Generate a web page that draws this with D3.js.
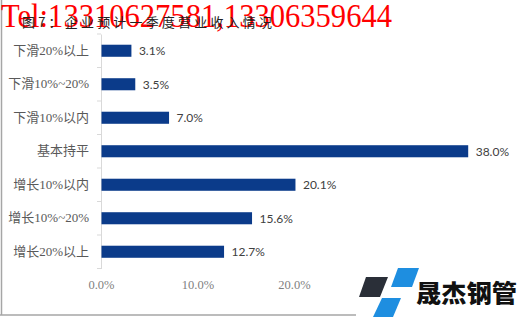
<!DOCTYPE html>
<html>
<head>
<meta charset="utf-8">
<script src="https://cdn.jsdelivr.net/npm/d3@7/dist/d3.min.js"></script>
<style>
  html, body { margin: 0; padding: 0; background: #fff; }
  svg { display: block; }
</style>
</head>
<body>
<svg id="chart" width="520" height="317"></svg>
<script>
// Categories, top to bottom, and their shares (%)
const categories = ["下滑20%以上", "下滑10%~20%", "下滑10%以内", "基本持平", "增长10%以内", "增长10%~20%", "增长20%以上"];
const values = [3.1, 3.5, 7.0, 38.0, 20.1, 15.6, 12.7];
const xTicks = [0, 10, 20];
const titleText = "图7：企业预计一季度营业收入情况";
const contactText = "Tel:13310627581,13306359644";
const brandText = "晟杰钢管";

const svg = d3.select("#chart");

const x = d3.scaleLinear().domain([0, 40]).range([101, 487]);
const y = d3.scaleBand().domain(categories).range([34, 268.5]).padding(0);
const barFrac = 0.36;

// Frame
svg.append("line").attr("x1", 1.5).attr("x2", 1.5).attr("y1", 0).attr("y2", 315)
  .attr("stroke", "#a6a6a6").attr("stroke-width", 1.5);
svg.append("line").attr("x1", 0).attr("x2", 362).attr("y1", 315).attr("y2", 315)
  .attr("stroke", "#a6a6a6").attr("stroke-width", 1.5);

// Category axis: line plus tick marks between categories
const yAxis = d3.axisLeft(y).tickSize(0).tickPadding(12).tickFormat(d => d);
const gy = svg.append("g").attr("transform", `translate(${x(0)},0)`).call(yAxis);
gy.select(".domain").attr("stroke", "#d9d9d9");
gy.selectAll("text")
  .attr("font-family", "'Liberation Serif', 'Noto Sans CJK SC', serif")
  .attr("font-size", 13).attr("fill", "#595959");
const bounds = categories.map(c => y(c)).concat([y.range()[1]]);
svg.append("g").selectAll("line").data(bounds).join("line")
  .attr("x1", x(0) - 4).attr("x2", x(0))
  .attr("y1", d => d).attr("y2", d => d)
  .attr("stroke", "#d9d9d9");

// Value axis labels
const xAxis = d3.axisBottom(x).tickValues(xTicks).tickSize(0).tickPadding(0)
  .tickFormat(d => d3.format(".1f")(d) + "%");
const gx = svg.append("g").attr("transform", "translate(0,280)").call(xAxis);
gx.select(".domain").remove();
gx.selectAll("text")
  .attr("font-family", "'Liberation Serif', serif")
  .attr("font-size", 12.5).attr("fill", "#7f7f7f");

// Bars
svg.append("g").selectAll("rect").data(categories).join("rect")
  .attr("x", x(0) + 0.5)
  .attr("y", d => y(d) + y.bandwidth() * (1 - barFrac) / 2)
  .attr("width", (d, i) => x(values[i]) - x(0))
  .attr("height", y.bandwidth() * barFrac)
  .attr("fill", "#0b3b8a");

// Value labels
svg.append("g").selectAll("text").data(categories).join("text")
  .attr("x", (d, i) => x(values[i]) + 8)
  .attr("y", d => y(d) + y.bandwidth() / 2)
  .attr("dy", "0.36em")
  .attr("font-family", "Lato, 'Open Sans', sans-serif")
  .attr("font-size", 12).attr("fill", "#404040")
  .text((d, i) => d3.format(".1f")(values[i]) + "%");

// Contact line and title
svg.append("text").attr("x", 1).attr("y", 27)
  .attr("font-family", "'Liberation Serif', serif")
  .attr("font-size", 33).attr("fill", "#ff0000")
  .attr("textLength", 391).attr("lengthAdjust", "spacingAndGlyphs")
  .text(contactText);
svg.append("text").attr("x", 22).attr("y", 27)
  .attr("font-family", "'Noto Sans CJK SC', sans-serif")
  .attr("font-size", 13).attr("fill", "#222")
  .attr("textLength", 250).attr("lengthAdjust", "spacing")
  .text(titleText);

// Brand mark
const logo = svg.append("g");
logo.append("rect").attr("x", 356).attr("y", 262).attr("width", 164).attr("height", 55).attr("fill", "#fff");
const shapes = [
  { pts: [[366, 277], [388, 277], [380, 297], [359, 297]], fill: "#2a2f38" },
  { pts: [[398, 268], [419, 268], [412, 287], [391, 287]], fill: "#1e8ee0" },
  { pts: [[382, 298], [401, 298], [393, 317], [373, 317]], fill: "#1e8ee0" }
];
logo.selectAll("polygon").data(shapes).join("polygon")
  .attr("points", d => d.pts.map(p => p.join(",")).join(" "))
  .attr("fill", d => d.fill);
logo.append("text").attr("x", 416).attr("y", 302)
  .attr("font-family", "'Noto Sans CJK SC', sans-serif")
  .attr("font-weight", 900).attr("font-size", 24).attr("fill", "#111")
  .attr("textLength", 101).attr("lengthAdjust", "spacingAndGlyphs")
  .text(brandText);
</script>
</body>
</html>
